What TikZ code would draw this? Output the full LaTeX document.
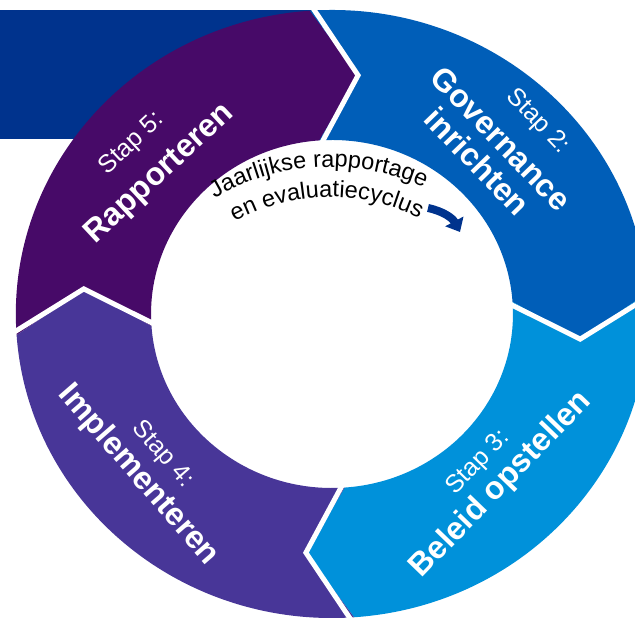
\documentclass[tikz,border=0pt]{standalone}
\usepackage{fontspec}
\setmainfont{Liberation Sans}
\usetikzlibrary{decorations.text, arrows.meta}

\definecolor{stapeen}{HTML}{00338D}
\definecolor{staptwee}{HTML}{005EB8}
\definecolor{stapdrie}{HTML}{0091DA}
\definecolor{stapvier}{HTML}{483698}
\definecolor{stapvijf}{HTML}{470A68}

\def\rin{174pt}
\def\rout{304pt}
\def\rmid{240pt}

\tikzstyle{stapnaam} = [text=white, align=center, font=\fontsize{32}{33}\selectfont\bfseries]
\tikzstyle{scheiding} = [white, line width=5pt, line join=miter]
\newcommand{\stapnr}[1]{{\fontsize{25}{25}\selectfont\mdseries #1}}

\tikzset{
    pics/ringdeel/.style args={#1,#2}{ % #1 is start angle of the part, #2 is its fill colour
        code={
            \fill[#2] (#1:\rout) arc[start angle=#1, end angle=#1-90, radius=\rout]
                -- ({#1-100}:\rmid) -- ({#1-90}:\rin)
                arc[start angle=#1-90, end angle=#1, radius=\rin]
                -- ({#1-10}:\rmid) -- cycle;
        }
    }
}

\begin{document}
\begin{tikzpicture}
    \useasboundingbox (-332pt,-304pt) rectangle (303pt,314pt);
    \clip (-332pt,-304pt) rectangle (303pt,314pt);

    % stap 1 komt van links binnen
    \fill[stapeen] (-340pt,175pt) rectangle (-10pt,304pt);

    \begin{scope}[xscale=1.04]
        \pic[transform shape]{ringdeel={184,stapvijf}};
        \pic[transform shape]{ringdeel={94,staptwee}};
        \pic[transform shape]{ringdeel={4,stapdrie}};
        \pic[transform shape]{ringdeel={-86,stapvier}};
        \foreach \a in {94,4,-86,184}
            \draw[scheiding] (\a:312pt) -- ({\a-10}:\rmid) -- (\a:168pt);
    \end{scope}

    \node[stapnaam, rotate=43] (vijf) at (-185pt,154pt) {\stapnr{Stap 5:}\\[10pt]Rapporteren};
    \node[stapnaam, rotate=-46] (twee) at (171pt,177pt) {\hspace*{26pt}\stapnr{Stap 2:}\\[10pt]Governance\\inrichten};
    \node[stapnaam, rotate=46] (drie) at (159pt,-161pt) {\stapnr{Stap 3:}\\[1pt]Beleid opstellen};
    \node[stapnaam, rotate=-49] (vier) at (-183pt,-152pt) {\stapnr{Stap 4:}\\[1pt]Implementeren};

    % jaarlijkse cyclus in het midden
    \coordinate (cyclus) at (-2pt,-81pt);
    \path[decorate, decoration={text along path, text align=center,
        text={|\fontsize{23.5}{23.5}\selectfont|Jaarlijkse rapportage}}]
        ([shift={(143:228pt)}]cyclus) arc[start angle=143, end angle=43, radius=228pt];
    \path[decorate, decoration={text along path, text align=center,
        text={|\fontsize{23.5}{23.5}\selectfont|en evaluatiecyclus}}]
        ([shift={(141:198pt)}]cyclus) arc[start angle=141, end angle=41, radius=198pt];

    \coordinate (pijlbegin) at (96pt,106pt);
    \coordinate (pijleind) at (128pt,82pt);
    \draw[stapeen, line width=8pt, -{Triangle[length=12pt, width=20pt]}] (pijlbegin) to[bend left=25] (pijleind);
\end{tikzpicture}
\end{document}
